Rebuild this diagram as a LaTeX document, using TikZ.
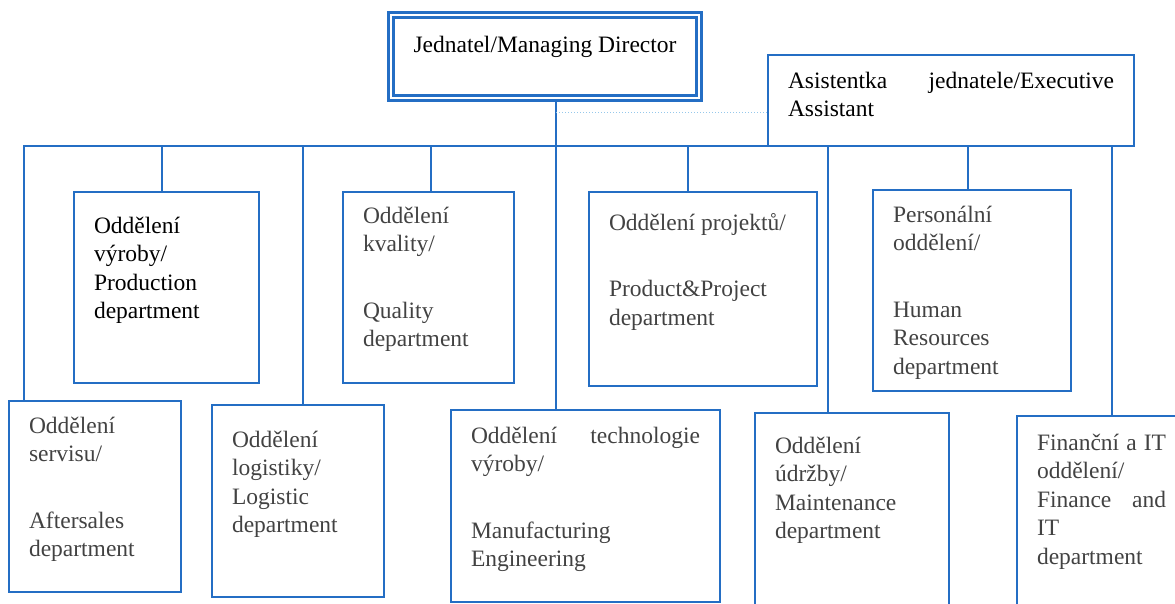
\documentclass[tikz,border=0pt]{standalone}
\usepackage{fontspec}
\setmainfont{Liberation Serif}
\usepackage{xcolor}
\usepackage{tikz}
\definecolor{orgblue}{RGB}{36,110,196}
\definecolor{orgdot}{RGB}{150,200,235}
\definecolor{orggray}{RGB}{66,66,66}
% box text: width, height, first baseline, lines
\newcommand{\depttext}[4]{\parbox[t][#2pt][t]{\dimexpr#1pt-40pt\relax}{\raggedright\rule{0pt}{#3pt}#4}}
\tikzset{
  dept/.style={draw=orgblue, line width=1.8pt, inner xsep=20pt, inner ysep=0pt, outer sep=0pt,
    anchor=north west, text=orggray, font=\fontsize{23.5pt}{28.5pt}\selectfont},
  head/.style={dept, double=white, double distance=2.7pt, line width=2.7pt, text=black},
  link/.style={draw=orgblue, line width=1.8pt},
  linkdot/.style={draw=orgdot, line width=1pt, dotted}
}

\begin{document}
\begin{tikzpicture}[x=1pt,y=-1pt]
\useasboundingbox (0,0) rectangle (1175,603);

% top level
\node[head] (dir) at (391,15) {\parbox[t][83pt][t]{268pt}{\centering\rule{0pt}{37pt}Jednatel/Managing Director}};
\node[dept, text=black] (asst) at (768,55) {\depttext{366}{91}{33}{Asistentka\hfill jednatele/Executive\\ Assistant}};

% upper row
\node[dept, text=black] (prod) at (74,192) {\depttext{185}{191}{41}{Oddělení\\ výroby/\\ Production\\ department}};
\node[dept] (qual) at (343,192) {\depttext{171}{191}{31}{Oddělení\\ kvality/\\[38pt] Quality\\ department}};
\node[dept] (proj) at (589,192) {\depttext{228}{194}{38}{Oddělení projektů/\\[38pt] Product\&Project\\ department}};
\node[dept] (hr) at (873,190) {\depttext{198}{201}{32}{Personální\\ oddělení/\\[38pt] Human\\ Resources\\ department}};

% lower row
\node[dept] (aft) at (9,401) {\depttext{172}{191}{32}{Oddělení\\ servisu/\\[38pt] Aftersales\\ department}};
\node[dept] (logi) at (212,405) {\depttext{172}{192}{42}{Oddělení\\ logistiky/\\ Logistic\\ department}};
\node[dept] (mfg) at (451,410) {\depttext{269}{192}{33}{Oddělení\hfill technologie\\ výroby/\\[38pt] Manufacturing\\ Engineering}};
\node[dept] (mnt) at (755,413) {\depttext{194}{192}{40}{Oddělení\\ údržby/\\ Maintenance\\ department}};
\node[dept] (fin) at (1017,416) {\depttext{169}{192}{34}{Finanční\hfill a\hfill IT\\ oddělení/\\ Finance\hfill and\\ IT\\ department}};

% connectors
\draw[link] ([xshift=15pt]aft.north west) |- ([xshift=95pt]fin.north west |- asst.south) -- ([xshift=95pt]fin.north west);
\draw[link] ([xshift=105pt,yshift=-4pt]mfg.north west |- dir.south) -- ([xshift=105pt]mfg.north west);
\draw[linkdot] ([xshift=105pt,yshift=-11.5pt]mfg.north west |- asst.west) -- ([yshift=-11.5pt]asst.west);
\foreach \d/\s in {prod/-4.5, qual/2.5, proj/-15, hr/-4, logi/5, mnt/-24}
  \draw[link] ([xshift=\s pt]\d.north) -- ([xshift=\s pt]\d.north |- asst.south);
\end{tikzpicture}
\end{document}
